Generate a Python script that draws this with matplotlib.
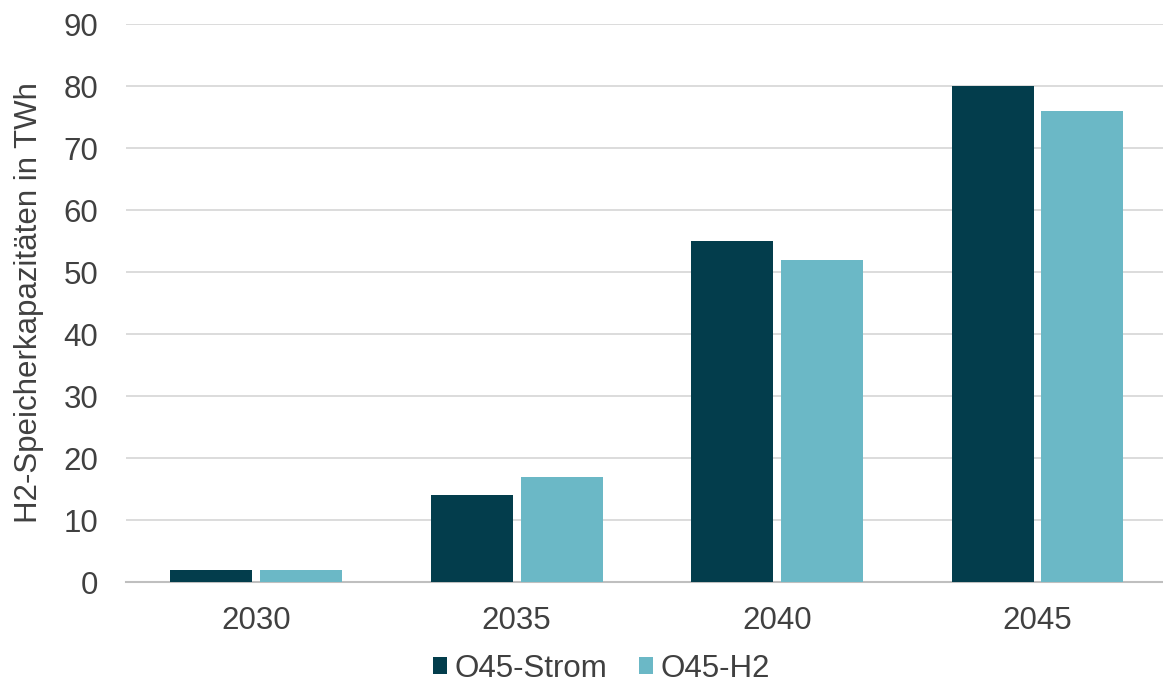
import numpy as np
import matplotlib
matplotlib.use("Agg")
import matplotlib.pyplot as plt

plt.rcParams["font.family"] = ["Liberation Sans", "DejaVu Sans"]

years = ["2030", "2035", "2040", "2045"]
strom = [2, 14, 55, 80]
h2 = [2, 17, 52, 76]
series_names = ["O45-Strom", "O45-H2"]

dark = "#033d4c"
light = "#6bb8c6"
text_col = "#404040"
fs = 22.5

fig = plt.figure(figsize=(11.63, 6.89), dpi=100)
ax = fig.add_axes([126 / 1163, 1 - 582 / 689, 1 - 126 / 1163 + 0.004, (582 - 24) / 689])

x = np.arange(len(years))
width = 0.315
gap = 0.03
ax.bar(x - (width + gap) / 2, strom, width, color=dark, label=series_names[0], zorder=3)
ax.bar(x + (width + gap) / 2, h2, width, color=light, label=series_names[1], zorder=3)

ax.set_xlim(-0.5, len(years) - 0.5)
ax.set_ylim(0, 90)
ax.set_yticks(range(0, 91, 10))
ax.set_xticks(x)
ax.set_xticklabels(years)
ax.yaxis.grid(True, color="#d9d9d9", linewidth=1.3)
ax.set_axisbelow(True)
for side in ["top", "right", "left"]:
    ax.spines[side].set_visible(False)
ax.spines["bottom"].set_color("#bfbfbf")
ax.spines["bottom"].set_linewidth(1.5)
ax.tick_params(axis="both", length=0, labelsize=fs, colors=text_col)
ax.tick_params(axis="y", pad=20)
ax.tick_params(axis="x", pad=17)

ax.set_ylabel("H2-Speicherkapazitäten in TWh", fontsize=fs, color=text_col, labelpad=14)

fig.legend(loc="lower center", bbox_to_anchor=(0.517, -0.033), ncol=2, frameon=False,
           fontsize=fs, handlelength=0.45, handleheight=0.45, handletextpad=0.25,
           columnspacing=1.0, labelcolor=text_col)

fig.savefig("out.png", dpi=100)
